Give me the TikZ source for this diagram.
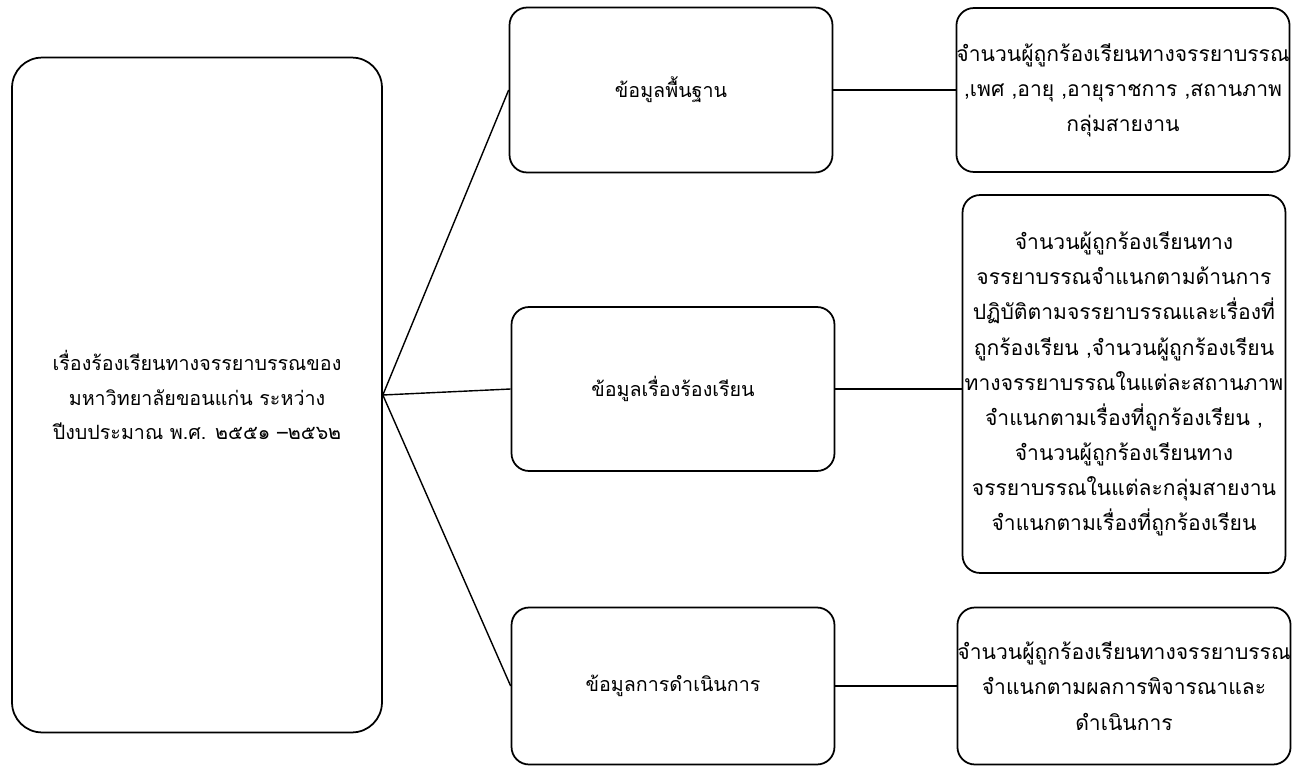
\documentclass[tikz,border=0pt]{standalone}
\usepackage{fontspec}
\newfontfamily\thaifont[Script=Thai]{Loma}
\usetikzlibrary{calc}

\tikzset{
	box/.style = {draw, line width = 1pt, rounded corners = 0.35cm, align = center, inner sep = 0pt,
		font = \thaifont\fontsize{12}{20}\selectfont},
	small/.style = {font = \thaifont\fontsize{11.2}{19.5}\selectfont},
	link/.style = {line width = 0.8pt},
}

\begin{document}
\begin{tikzpicture}[x = 0.02cm, y = -0.02cm]
		\def\wbox{6.46cm};
		
		\useasboundingbox (0,0) rectangle (1295,767);
		
		\node [box, small, rounded corners = 0.6cm, minimum width = 7.4cm, minimum height = 13.5cm] (topic) at (197,395)
			{เรื่องร้องเรียนทางจรรยาบรรณของ\\มหาวิทยาลัยขอนแก่น ระหว่าง\\ปีงบประมาณ พ.ศ. ๒๕๕๑ –๒๕๖๒};
		
		\node [box, small, minimum width = \wbox, minimum height = 3.3cm] (basic) at (671,90) {ข้อมูลพื้นฐาน};
		\node [box, small, minimum width = \wbox, minimum height = 3.28cm] (complaint) at (673,389) {ข้อมูลเรื่องร้องเรียน};
		\node [box, small, minimum width = \wbox, minimum height = 3.14cm] (action) at (673,686) {ข้อมูลการดำเนินการ};
		
		\node [box, minimum width = \wbox, minimum height = 3.28cm] (basicinfo) at (1123,90)
			{จำนวนผู้ถูกร้องเรียนทางจรรยาบรรณ\\,เพศ ,อายุ ,อายุราชการ ,สถานภาพ\\กลุ่มสายงาน};
		\node [box, minimum width = \wbox, minimum height = 7.56cm] (complaintinfo) at (1124,384)
			{จำนวนผู้ถูกร้องเรียนทาง\\จรรยาบรรณจำแนกตามด้านการ\\ปฏิบัติตามจรรยาบรรณและเรื่องที่\\ถูกร้องเรียน ,จำนวนผู้ถูกร้องเรียน\\ทางจรรยาบรรณในแต่ละสถานภาพ\\จำแนกตามเรื่องที่ถูกร้องเรียน ,\\จำนวนผู้ถูกร้องเรียนทาง\\จรรยาบรรณในแต่ละกลุ่มสายงาน\\จำแนกตามเรื่องที่ถูกร้องเรียน};
		\node [box, minimum width = \wbox, minimum height = 3.14cm] (actioninfo) at (1124,686)
			{จำนวนผู้ถูกร้องเรียนทางจรรยาบรรณ\\จำแนกตามผลการพิจารณาและ\\ดำเนินการ};
		
		\begin{scope}[link]
		\draw (topic.east) -- (basic.west);
		\draw (topic.east) -- (complaint.west);
		\draw (topic.east) -- (action.west);
		
		\draw (basic.east) -- (basicinfo.west);
		\draw (complaint.east) -- (complaint.east -| complaintinfo.west);
		\draw (action.east) -- (actioninfo.west);
		\end{scope}
	\end{tikzpicture}
\end{document}
